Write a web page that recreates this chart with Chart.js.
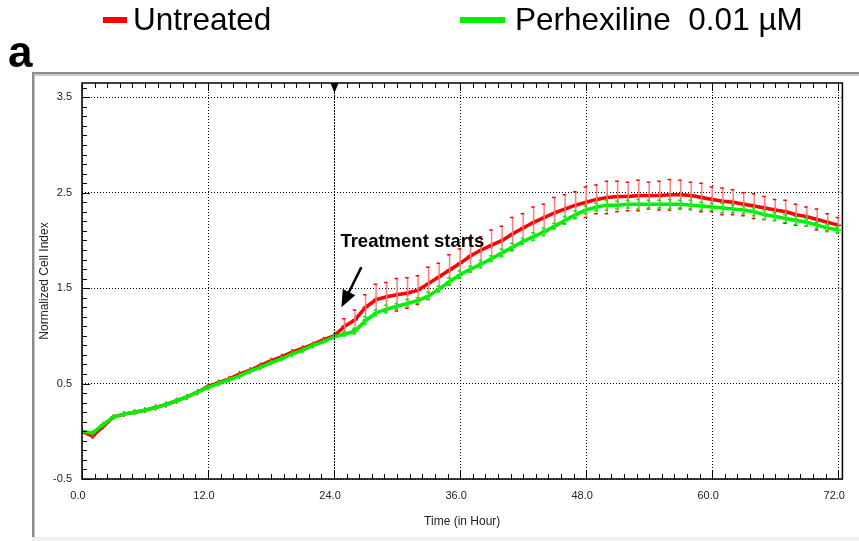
<!DOCTYPE html>
<html>
<head>
<meta charset="utf-8">
<script src="https://cdn.jsdelivr.net/npm/chart.js@4.4.1/dist/chart.umd.min.js"></script>
<style>
  html, body { margin: 0; padding: 0; background: #fff; }
  #wrap { position: relative; width: 859px; height: 541px; }
</style>
</head>
<body>
<div id="wrap"><canvas id="grafico" width="859" height="541"></canvas></div>
<script>
// datos (tiempo en horas, indice celular normalizado)
const horas = [0,1,2,3,4,5,6,7,8,9,10,11,12,13,14,15,16,17,18,19,20,21,22,23,24,
  25,26,27,28,29,30,31,32,33,34,35,36,37,38,39,40,41,42,43,44,45,46,47,48,
  49,50,51,52,53,54,55,56,57,58,59,60,61,62,63,64,65,66,67,68,69,70,71,72];

const untreated = [0.00,-0.05,0.05,0.15,0.18,0.20,0.22,0.25,0.28,0.32,0.36,0.41,0.47,0.51,0.55,0.60,0.64,0.69,0.74,0.78,0.83,0.87,0.91,0.96,1.00,
  1.10,1.17,1.30,1.38,1.41,1.43,1.45,1.48,1.55,1.62,1.69,1.76,1.84,1.90,1.95,2.00,2.07,2.13,2.19,2.24,2.29,2.33,2.37,2.40,
  2.43,2.45,2.46,2.46,2.47,2.47,2.47,2.48,2.48,2.47,2.45,2.43,2.41,2.40,2.38,2.36,2.34,2.32,2.30,2.27,2.25,2.22,2.19,2.16];

const perhexiline = [0.00,-0.02,0.07,0.15,0.18,0.20,0.22,0.25,0.28,0.32,0.36,0.41,0.46,0.50,0.54,0.58,0.63,0.67,0.72,0.76,0.81,0.85,0.90,0.94,0.99,
  1.02,1.05,1.16,1.24,1.28,1.31,1.34,1.37,1.42,1.49,1.57,1.64,1.70,1.75,1.81,1.87,1.93,1.99,2.04,2.09,2.15,2.21,2.27,2.32,
  2.35,2.37,2.37,2.38,2.38,2.38,2.38,2.38,2.38,2.37,2.36,2.35,2.34,2.33,2.32,2.30,2.27,2.25,2.23,2.21,2.19,2.16,2.13,2.11];

const errUntreated = [0,0,0,0,0,0,0,0,0,0,0,0,0,0,0,0,0,0,0,0,0,0,0,0,0,
  0.08,0.10,0.13,0.16,0.15,0.17,0.16,0.15,0.17,0.14,0.16,0.15,0.17,0.14,0.16,0.15,0.17,0.15,0.16,0.14,0.16,0.15,0.14,0.16,
  0.15,0.17,0.16,0.15,0.16,0.14,0.15,0.16,0.15,0.14,0.15,0.13,0.14,0.13,0.12,0.13,0.12,0.11,0.12,0.11,0.10,0.11,0.09,0.08];

const errPerhex = [0,0,0,0,0,0,0,0,0,0,0,0,0,0,0,0,0,0,0,0,0,0,0,0,0,
  0.02,0.03,0.04,0.03,0.04,0.03,0.04,0.03,0.04,0.03,0.04,0.04,0.03,0.04,0.03,0.04,0.04,0.03,0.04,0.04,0.03,0.04,0.04,0.04,
  0.04,0.05,0.04,0.04,0.05,0.04,0.04,0.05,0.04,0.05,0.04,0.04,0.05,0.04,0.04,0.04,0.05,0.04,0.04,0.04,0.04,0.03,0.04,0.03];

const ticksX = [0, 12, 24, 36, 48, 60, 72];
const ticksY = [-0.5, 0.5, 1.5, 2.5, 3.5];
const inicioTratamiento = 24;
const leyenda = ["Untreated", "Perhexiline  0.01 µM"];

const ROJO = "#ff0000";
const VERDE = "#00f000";
const FUENTE = "'Liberation Sans', Arial, sans-serif";

function puntos(ys) {
  return horas.map((h, i) => ({ x: h, y: ys[i] }));
}

// marco gris de fondo
const marcoPlugin = {
  id: "marco",
  beforeDraw(chart) {
    const ctx = chart.ctx;
    ctx.save();
    ctx.fillStyle = "#fff";
    ctx.fillRect(0, 0, chart.width, chart.height);
    ctx.fillStyle = "#f0f0f0";
    ctx.fillRect(32, 537, chart.width - 32, 4);
    ctx.fillStyle = "#8c8c8c";
    ctx.fillRect(32, 72, chart.width - 32, 2);
    ctx.fillRect(32, 72, 2, 465);
    ctx.fillStyle = "#c8c8c8";
    ctx.fillRect(34, 74, chart.width - 34, 2);
    ctx.fillRect(34, 74, 1, 463);
    ctx.restore();
  }
};

// barras de error
const erroresPlugin = {
  id: "errores",
  afterDatasetDraw(chart, args) {
    const ctx = chart.ctx;
    const sx = chart.scales.x, sy = chart.scales.y;
    const esRojo = args.index === 0;
    const vals = esRojo ? untreated : perhexiline;
    const errs = esRojo ? errUntreated : errPerhex;
    ctx.save();
    for (let i = 0; i < horas.length; i++) {
      if (!errs[i]) continue;
      const x = sx.getPixelForValue(horas[i]);
      const yTop = sy.getPixelForValue(vals[i] + errs[i]);
      const yBot = sy.getPixelForValue(vals[i] - errs[i]);
      ctx.lineWidth = 1.5;
      ctx.strokeStyle = esRojo ? "#ff7f7f" : "#40e040";
      ctx.beginPath();
      ctx.moveTo(x, yTop);
      ctx.lineTo(x, yBot);
      ctx.stroke();
      ctx.strokeStyle = esRojo ? ROJO : VERDE;
      ctx.beginPath();
      ctx.moveTo(x - 2.5, yTop); ctx.lineTo(x + 1, yTop);
      ctx.moveTo(x - 2.5, yBot); ctx.lineTo(x + 1, yBot);
      ctx.stroke();
    }
    ctx.restore();
  }
};

// caja, marcas internas, linea de tratamiento, anotaciones y leyenda
const extrasPlugin = {
  id: "extras",
  afterDraw(chart) {
    const ctx = chart.ctx;
    const a = chart.chartArea;
    const sx = chart.scales.x, sy = chart.scales.y;
    ctx.save();

    // marcas hacia adentro
    ctx.strokeStyle = "#000";
    ctx.lineWidth = 1;
    ctx.beginPath();
    for (let k = 0; k <= 60; k++) {
      const v = k * 1.2;
      const x = Math.round(sx.getPixelForValue(v)) + 0.5;
      const len = k % 10 === 0 ? 8 : 5;
      ctx.moveTo(x, a.bottom); ctx.lineTo(x, a.bottom - len);
      ctx.moveTo(x, a.top); ctx.lineTo(x, a.top + len);
    }
    for (let k = 0; k <= 41; k++) {
      const v = -0.5 + k * 0.1;
      const y = Math.round(sy.getPixelForValue(v)) + 0.5;
      const len = k % 10 === 0 ? 8 : 5;
      ctx.moveTo(a.left, y); ctx.lineTo(a.left + len, y);
    }
    ctx.stroke();

    // caja
    ctx.strokeStyle = "#000";
    ctx.lineWidth = 1.5;
    ctx.strokeRect(a.left, a.top, a.right - a.left, a.bottom - a.top);

    // linea de inicio de tratamiento
    const xt = Math.round(sx.getPixelForValue(inicioTratamiento)) + 0.5;
    ctx.lineWidth = 1;
    ctx.setLineDash([2, 1]);
    ctx.beginPath();
    ctx.moveTo(xt, a.top); ctx.lineTo(xt, a.bottom);
    ctx.stroke();
    ctx.setLineDash([]);
    ctx.fillStyle = "#000";
    ctx.beginPath();
    ctx.moveTo(xt - 4, a.top); ctx.lineTo(xt + 4, a.top); ctx.lineTo(xt, a.top + 10);
    ctx.closePath();
    ctx.fill();

    // texto y flecha
    ctx.font = "bold 18.5px " + FUENTE;
    ctx.textBaseline = "alphabetic";
    ctx.textAlign = "left";
    ctx.fillText("Treatment starts", sx.getPixelForValue(24.6), sy.getPixelForValue(1.93));
    const x1 = sx.getPixelForValue(26.6), y1 = sy.getPixelForValue(1.72);
    const x2 = sx.getPixelForValue(24.7), y2 = sy.getPixelForValue(1.30);
    const ang = Math.atan2(y2 - y1, x2 - x1);
    ctx.lineWidth = 2.5;
    ctx.beginPath();
    ctx.moveTo(x1, y1);
    ctx.lineTo(x2 - 12 * Math.cos(ang), y2 - 12 * Math.sin(ang));
    ctx.stroke();
    ctx.beginPath();
    ctx.moveTo(x2, y2);
    ctx.lineTo(x2 - 17 * Math.cos(ang) + 7 * Math.sin(ang), y2 - 17 * Math.sin(ang) - 7 * Math.cos(ang));
    ctx.lineTo(x2 - 17 * Math.cos(ang) - 7 * Math.sin(ang), y2 - 17 * Math.sin(ang) + 7 * Math.cos(ang));
    ctx.closePath();
    ctx.fill();

    // leyenda
    ctx.font = "31.5px " + FUENTE;
    ctx.textBaseline = "middle";
    ctx.fillStyle = ROJO;
    ctx.fillRect(103, 17, 24, 6);
    ctx.fillStyle = "#000";
    ctx.fillText(leyenda[0], 133, 21);
    ctx.fillStyle = VERDE;
    ctx.fillRect(460, 17, 45, 6);
    ctx.fillStyle = "#000";
    ctx.fillText(leyenda[1], 515, 21);

    // letra del panel
    ctx.font = "bold 44px " + FUENTE;
    ctx.textBaseline = "alphabetic";
    ctx.fillText("a", 8, 67);
    ctx.restore();
  }
};

new Chart(document.getElementById("grafico"), {
  type: "line",
  data: {
    datasets: [
      {
        label: leyenda[0],
        data: puntos(untreated),
        borderColor: ROJO,
        backgroundColor: ROJO,
        borderWidth: 3.5,
        pointStyle: "cross",
        pointRadius: 3,
        pointBorderWidth: 1.5,
        tension: 0,
        order: 1
      },
      {
        label: leyenda[1],
        data: puntos(perhexiline),
        borderColor: VERDE,
        backgroundColor: VERDE,
        borderWidth: 3.5,
        pointStyle: "cross",
        pointRadius: 3,
        pointBorderWidth: 1.5,
        tension: 0,
        order: 0
      }
    ]
  },
  options: {
    responsive: false,
    devicePixelRatio: 1,
    animation: false,
    layout: { padding: { top: 83, right: 13, left: 0, bottom: 0 } },
    plugins: { legend: { display: false }, tooltip: { enabled: false } },
    scales: {
      x: {
        type: "linear",
        min: 0,
        max: 72.4,
        afterFit: (s) => { s.height = 62; },
        afterBuildTicks: (s) => { s.ticks = ticksX.map(v => ({ value: v })); },
        grid: { color: "#000", lineWidth: 1, drawTicks: false },
        border: { display: false, dash: [1, 2] },
        ticks: {
          padding: 10,
          labelOffset: -4,
          maxRotation: 0,
          color: "#222",
          font: { family: FUENTE, size: 11 },
          callback: (v) => Number(v).toFixed(1)
        },
        title: {
          display: true,
          text: "Time (in Hour)",
          color: "#222",
          font: { family: FUENTE, size: 12 },
          padding: { top: 0, bottom: 12 }
        }
      },
      y: {
        type: "linear",
        min: -0.5,
        max: 3.65,
        afterFit: (s) => { s.width = 82; },
        afterBuildTicks: (s) => { s.ticks = ticksY.map(v => ({ value: v })); },
        grid: { color: "#000", lineWidth: 1, drawTicks: false },
        border: { display: false, dash: [1, 2] },
        ticks: {
          padding: 10,
          color: "#222",
          font: { family: FUENTE, size: 11 },
          callback: (v) => Number(v).toFixed(1)
        },
        title: {
          display: true,
          text: "Normalized Cell Index",
          color: "#222",
          font: { family: FUENTE, size: 12 },
          padding: { top: 37, bottom: 0 }
        }
      }
    }
  },
  plugins: [marcoPlugin, erroresPlugin, extrasPlugin]
});
</script>
</body>
</html>
